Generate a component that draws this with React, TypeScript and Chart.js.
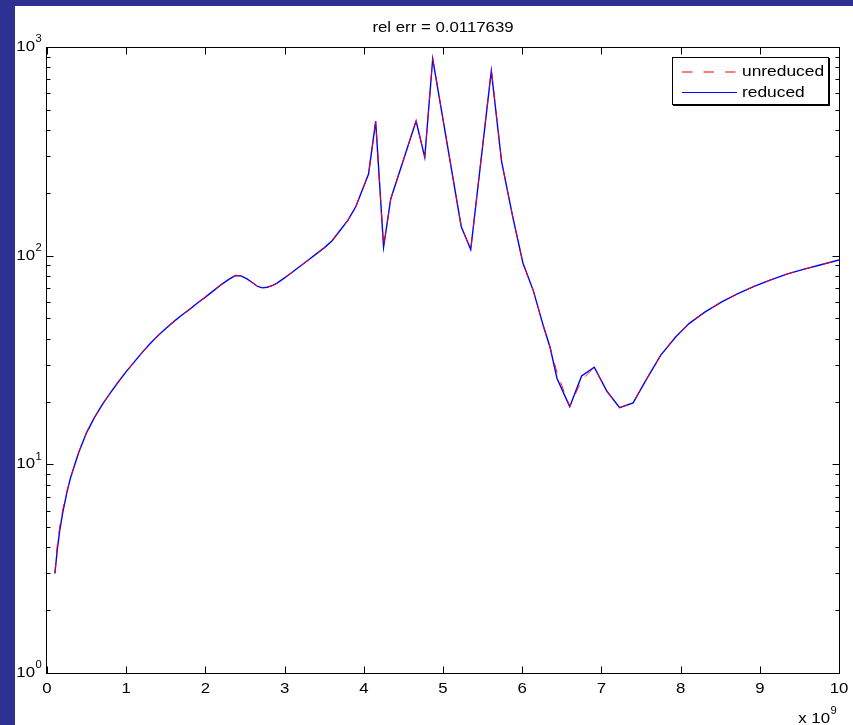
import { useEffect, useRef } from "react";
import { Chart, registerables } from "chart.js";

Chart.register(...registerables);

// Frequency samples, in units of 1e9 Hz
const freqE9 = [
  0.1, 0.13, 0.16, 0.2, 0.25, 0.3, 0.4, 0.5, 0.6, 0.7, 0.8, 0.9, 1.0, 1.1, 1.2, 1.3, 1.4, 1.5,
  1.6, 1.7, 1.8, 1.9, 2.0, 2.1, 2.2, 2.3, 2.38, 2.45, 2.52, 2.6, 2.66, 2.72, 2.78, 2.85, 2.9,
  3.0, 3.1, 3.2, 3.3, 3.4, 3.5, 3.6, 3.7, 3.8, 3.9, 3.96, 4.06, 4.15, 4.25, 4.34, 4.66, 4.77,
  4.87, 5.23, 5.35, 5.61, 5.74, 5.88, 6.01, 6.14, 6.27, 6.35, 6.44, 6.6, 6.75, 6.91, 7.07,
  7.23, 7.4, 7.57, 7.75, 7.94, 8.11, 8.31, 8.52, 8.71, 8.92, 9.13, 9.34, 9.55, 9.76, 10.0,
];

// Reduced-order model response
const reducedVals = [
  3.0, 3.9, 4.8, 5.9, 7.3, 8.7, 11.4, 14.2, 16.8, 19.4, 22.0, 24.8, 27.8, 30.9, 34.3, 37.8, 41.3, 44.8,
  48.3, 51.8, 55.3, 59.3, 63.3, 67.8, 72.6, 77.2, 80.3, 80.0, 77.6, 74.0, 71.2, 70.1, 70.6, 72.0, 73.6,
  78.3, 83.5, 89.2, 95.3, 102, 109, 118, 132, 148, 172, 197, 246, 440, 110, 187, 442, 296,
  878, 138, 107, 769, 282, 154, 92, 68, 45.6, 36.6, 25.8, 18.9, 26.5, 29.2, 22.4,
  18.7, 19.7, 25.6, 33.4, 40.9, 47.4, 53.8, 60.1, 65.4, 71.0, 76.4, 81.6, 86.0, 90.2, 95.3,
];

// Full model response
const unreducedVals = [
  3.0, 4.1, 5.0, 6.1, 7.4, 8.7, 11.4, 14.2, 16.8, 19.4, 22.0, 24.8, 27.8, 30.9, 34.3, 37.8, 41.3, 44.8,
  48.3, 51.8, 55.3, 59.3, 63.3, 67.8, 72.6, 77.2, 80.3, 80.0, 77.6, 74.0, 71.2, 70.1, 70.6, 72.0, 73.6,
  78.3, 83.5, 89.2, 95.3, 102, 109, 118, 132, 148, 172, 197, 246, 440, 110, 187, 442, 296,
  880, 138, 107, 780, 282, 154, 92, 68, 45.6, 36.6, 27.5, 18.9, 25.3, 29.2, 22.4,
  18.7, 19.7, 25.6, 33.4, 40.9, 47.4, 53.8, 60.1, 65.4, 71.0, 76.4, 81.6, 86.0, 90.2, 95.3,
];

const xTickVals = [0, 1, 2, 3, 4, 5, 6, 7, 8, 9, 10];
const yDecadeExps = [0, 1, 2, 3];
const seriesNames = ["unreduced", "reduced"];
const seriesColors = ["#FF0000", "#0000FF"];
const titleText = "rel err = 0.0117639";
const xExponent = "9";

const W = 853;
const H = 725;
const BG_BLUE = "#2E3192";
const FONT = '"Liberation Sans", Arial, Helvetica, sans-serif';
const STRETCH = 1.12;

function drawText(
  ctx: CanvasRenderingContext2D,
  s: string,
  x: number,
  y: number,
  size: number,
  align: "left" | "center" | "right"
) {
  ctx.save();
  ctx.font = `${size}px ${FONT}`;
  ctx.textBaseline = "middle";
  ctx.textAlign = "left";
  ctx.fillStyle = "#000";
  const w = ctx.measureText(s).width * STRETCH;
  let left = x;
  if (align === "center") left = x - w / 2;
  else if (align === "right") left = x - w;
  ctx.translate(left, y);
  ctx.scale(STRETCH, 1);
  ctx.fillText(s, 0, 0);
  ctx.restore();
  return w;
}

function drawSample(
  ctx: CanvasRenderingContext2D,
  y: number,
  color: string,
  dash: number[],
  width: number
) {
  ctx.save();
  ctx.lineWidth = width;
  ctx.strokeStyle = color;
  ctx.setLineDash(dash);
  ctx.beginPath();
  ctx.moveTo(682, y);
  ctx.lineTo(737, y);
  ctx.stroke();
  ctx.restore();
}

const figurePlugin = {
  id: "figureFrame",
  beforeDraw(chart: any) {
    const ctx: CanvasRenderingContext2D = chart.ctx;
    ctx.save();
    ctx.fillStyle = "#fff";
    ctx.fillRect(0, 0, W, H);
    ctx.fillStyle = BG_BLUE;
    ctx.fillRect(0, 0, 15, H);
    ctx.fillRect(0, 0, W, 6);
    ctx.restore();
  },
  afterDatasetsDraw(chart: any) {
    const ctx: CanvasRenderingContext2D = chart.ctx;
    const a = chart.chartArea;
    const xs = chart.scales.x;
    const ys = chart.scales.y;
    const L = Math.round(a.left) - 0.5;
    const R = Math.round(a.right) + 0.5;
    const T = Math.round(a.top) + 0.5;
    const B = Math.round(a.bottom) + 0.5;

    ctx.save();
    ctx.strokeStyle = "#000";
    ctx.lineWidth = 1;
    ctx.setLineDash([]);
    ctx.strokeRect(L, T, R - L, B - T);

    // x ticks, bottom and top, pointing inward
    ctx.beginPath();
    for (const v of xTickVals) {
      const px = Math.round(xs.getPixelForValue(v)) + 0.5;
      ctx.moveTo(px, B);
      ctx.lineTo(px, B - 7);
      ctx.moveTo(px, T);
      ctx.lineTo(px, T + 7);
    }
    // y ticks on a log scale, major at decades and minor in between
    for (const e of yDecadeExps) {
      const base = Math.pow(10, e);
      const py = Math.round(ys.getPixelForValue(base)) + 0.5;
      ctx.moveTo(L, py);
      ctx.lineTo(L + 7, py);
      ctx.moveTo(R, py);
      ctx.lineTo(R - 7, py);
      if (e < yDecadeExps[yDecadeExps.length - 1]) {
        for (let m = 2; m <= 9; m++) {
          const pm = Math.round(ys.getPixelForValue(base * m)) + 0.5;
          ctx.moveTo(L, pm);
          ctx.lineTo(L + 4, pm);
          ctx.moveTo(R, pm);
          ctx.lineTo(R - 4, pm);
        }
      }
    }
    ctx.stroke();
    ctx.restore();

    // tick labels
    for (const v of xTickVals) {
      drawText(ctx, String(v), xs.getPixelForValue(v), 689, 15, "center");
    }
    for (const e of yDecadeExps) {
      const py = ys.getPixelForValue(Math.pow(10, e));
      drawText(ctx, "10", 35, py, 15, "right");
      drawText(ctx, String(e), 35.5, py - 7.5, 10, "left");
    }
    drawText(ctx, "x 10", 830, 719, 15, "right");
    drawText(ctx, xExponent, 830.5, 711.5, 10, "left");

    // title
    drawText(ctx, titleText, (a.left + a.right) / 2, 28, 15, "center");

    // legend box with a one-pixel drop shadow
    ctx.save();
    ctx.fillStyle = "#000";
    ctx.fillRect(673, 58, 157, 48);
    ctx.fillStyle = "#fff";
    ctx.fillRect(672, 57, 157, 48);
    ctx.strokeStyle = "#000";
    ctx.lineWidth = 1;
    ctx.setLineDash([]);
    ctx.strokeRect(672.5, 57.5, 156, 47);
    ctx.restore();
    drawSample(ctx, 72, seriesColors[0], [10.5, 11], 1.2);
    drawSample(ctx, 92.5, seriesColors[1], [], 1.2);
    drawText(ctx, seriesNames[0], 742, 72, 15.5, "left");
    drawText(ctx, seriesNames[1], 742, 93, 15.5, "left");
  },
};

export default function App() {
  const ref = useRef<HTMLCanvasElement>(null);

  useEffect(() => {
    document.body.style.margin = "0";
    const canvas = ref.current;
    if (!canvas) return;
    const chart = new Chart(canvas, {
      type: "line",
      data: {
        datasets: [
          {
            label: seriesNames[0],
            data: freqE9.map((f, i) => ({ x: f, y: unreducedVals[i] })),
            borderColor: seriesColors[0],
            borderWidth: 0.9,
            borderDash: [10, 10],
            pointRadius: 0,
            tension: 0,
            fill: false,
          },
          {
            label: seriesNames[1],
            data: freqE9.map((f, i) => ({ x: f, y: reducedVals[i] })),
            borderColor: seriesColors[1],
            borderWidth: 1.4,
            pointRadius: 0,
            tension: 0,
            fill: false,
          },
        ],
      },
      options: {
        animation: false,
        responsive: false,
        maintainAspectRatio: false,
        layout: { padding: { left: 47, top: 47, right: 14, bottom: 52 } },
        scales: {
          x: { type: "linear", min: 0, max: 10, display: false },
          y: { type: "logarithmic", min: 1, max: 1000, display: false },
        },
        plugins: {
          legend: { display: false },
          title: { display: false },
          tooltip: { enabled: false },
        },
      },
      plugins: [figurePlugin],
    });
    return () => chart.destroy();
  }, []);

  return (
    <canvas
      ref={ref}
      width={W}
      height={H}
      style={{ display: "block", width: W, height: H }}
    />
  );
}
